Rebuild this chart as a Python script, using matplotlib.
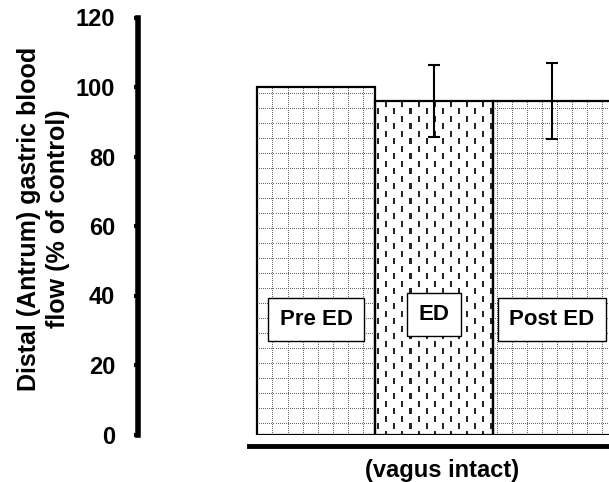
import numpy as np
import matplotlib
matplotlib.use("Agg")
import matplotlib.pyplot as plt

plt.rcParams['font.family'] = ['Liberation Sans', 'DejaVu Sans']
plt.rcParams['font.weight'] = 'bold'

# data
groups = ["Pre ED", "ED", "Post ED"]
flow = [100, 96, 96]
flow_err = [0, 10.4, 11]
label_y = [33, 34.5, 33]
yticks = [0, 20, 40, 60, 80, 100, 120]
patterns = ["grid", "dash", "grid"]

W, H = 609, 482
fig = plt.figure(figsize=(W / 100, H / 100), dpi=100)
ax_l, ax_b = 137.5, 434.5
ax_t = 17.5
ax = fig.add_axes([ax_l / W, 1 - ax_b / H, (W - ax_l) / W, (ax_b - ax_t) / H])

x = np.arange(len(groups))
bars = ax.bar(x, flow, width=1.0, color="white", edgecolor="none", zorder=1)

# pixel textures for the fills, one pixel per screen pixel
pw, ph = int(round(W - ax_l)), int(round(ax_b - ax_t))
yy, xx = np.mgrid[0:ph, 0:pw]
grid = np.ones((ph, pw))
on_line = ((xx % 15 == 0) & (yy % 2 == 0)) | ((yy % 15 == 0) & (xx % 2 == 0))
grid[on_line] = 0.4
dash = np.ones((ph, pw))
col = xx // 8
phase = (yy + (col % 2) * 7) % 15
dash[((xx % 8) < 2) & (phase < 6)] = 0.15
tex = {"grid": grid, "dash": dash}

for bar, pat in zip(bars, patterns):
    im = ax.imshow(tex[pat], cmap="gray", vmin=0, vmax=1, interpolation="nearest",
                   extent=(0, 1, 0, 1), transform=ax.transAxes, aspect="auto", zorder=2)
    im.set_clip_path(bar)

ax.bar(x, flow, width=1.0, fill=False, edgecolor="black", linewidth=1.6, zorder=3)
ax.errorbar(x[1:], flow[1:], yerr=flow_err[1:], fmt="none", ecolor="black",
            elinewidth=1.5, capsize=4, capthick=1.5, zorder=4)

for xi, yi, name in zip(x, label_y, groups):
    ax.text(xi, yi, name, ha="center", va="center", fontsize=16, fontweight="bold", zorder=5,
            bbox=dict(boxstyle="square,pad=0.5", facecolor="white", edgecolor="black", linewidth=1))

ax.set_xlim(-0.5 - (257 - ax_l) / 118, 2.483)
ax.set_ylim(0, 120)
ax.set_yticks(yticks)
ax.tick_params(axis="y", direction="out", length=3, width=3, pad=13, labelsize=17)
ax.set_xticks([])

for s in ["top", "right"]:
    ax.spines[s].set_visible(False)
ax.spines["left"].set_linewidth(4)
ax.spines["bottom"].set_linewidth(3.5)
ax.spines["bottom"].set_position(("outward", 8.3))
ax.spines["bottom"].set_bounds(-0.5 - 8 / 118, 2.483)

for lab in ax.get_yticklabels():
    lab.set_fontweight("bold")

ax.set_xlabel("(vagus intact)", fontsize=17, fontweight="bold")
ax.xaxis.set_label_coords((442 - ax_l) / (W - ax_l), -0.058)

fig.text(43.5 / W, 1 - 219 / H, "Distal (Antrum) gastric blood\nflow (% of control)",
         rotation=90, ha="center", va="center", multialignment="center",
         fontsize=18, fontweight="bold", linespacing=1.3)

fig.savefig("out.png", dpi=100)
